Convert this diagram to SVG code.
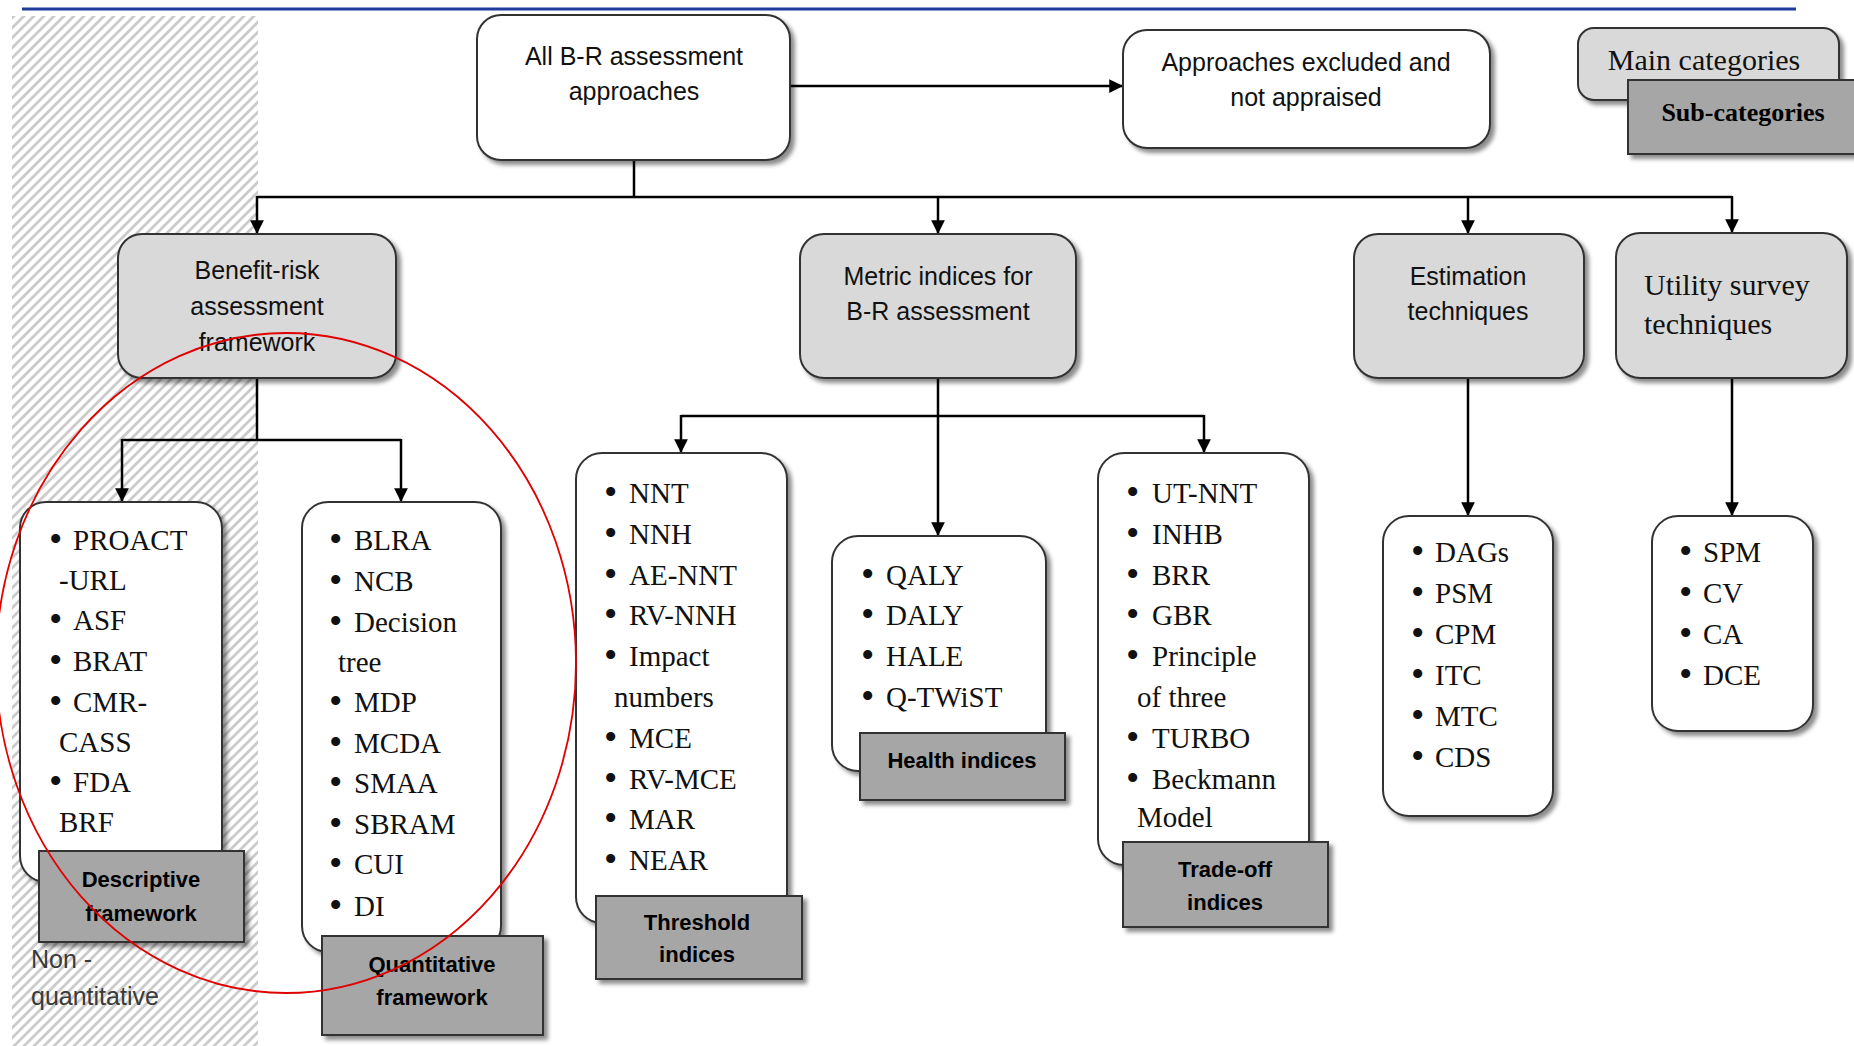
<svg xmlns="http://www.w3.org/2000/svg" width="1854" height="1046" viewBox="0 0 1854 1046">
<defs>
<style>
.main{fill:#d9d9d9;stroke:#333;stroke-width:2;filter:url(#sh)}
.white{fill:#fff;stroke:#333;stroke-width:2;filter:url(#sh)}
.sub{fill:#a6a6a6;stroke:#333;stroke-width:2;filter:url(#sh)}
.t{font-family:"Liberation Sans",Arial,sans-serif;font-size:25px;fill:#111;text-anchor:middle}
.ts{font-family:"Liberation Serif","Times New Roman",serif;font-size:30px;fill:#111}
.li{font-family:"Liberation Serif","Times New Roman",serif;font-size:29px;fill:#111}
.li .b{font-size:38px}
.lb{font-family:"Liberation Sans",Arial,sans-serif;font-weight:bold;font-size:22px;fill:#000;text-anchor:middle}
.conn{stroke:#000;stroke-width:2.5;fill:none}
.arr{stroke:#000;stroke-width:2.5;fill:none;marker-end:url(#ah)}
</style>
<filter id="sh" x="-10%" y="-10%" width="130%" height="130%">
<feDropShadow dx="4" dy="4" stdDeviation="2" flood-color="#000" flood-opacity="0.45"/>
</filter>
<pattern id="hatch" width="10" height="10" patternUnits="userSpaceOnUse">
<rect width="10" height="10" fill="#fff"/>
<path d="M-2,2 L2,-2 M0,10 L10,0 M8,12 L12,8" stroke="#cbcbcb" stroke-width="2.8"/>
</pattern>
<marker id="ah" viewBox="0 0 10 10" refX="10" refY="5" markerWidth="5.5" markerHeight="5.5" orient="auto" markerUnits="strokeWidth">
<path d="M0,0 L10,5 L0,10 z" fill="#000"/>
</marker>
</defs>
<rect width="1854" height="1046" fill="#fff"/>
<line x1="22" y1="9" x2="1796" y2="9" stroke="#1f3b9c" stroke-width="3"/>
<rect id="nonquant-area" x="12" y="16" width="246" height="1030" fill="url(#hatch)"/>

<g id="connectors">
<line class="arr" x1="790" y1="86" x2="1123" y2="86"/>
<line class="conn" x1="634" y1="160" x2="634" y2="197"/>
<line class="conn" x1="257" y1="197" x2="1732" y2="197"/>
<line class="arr" x1="257" y1="196" x2="257" y2="234"/>
<line class="arr" x1="938" y1="196" x2="938" y2="234"/>
<line class="arr" x1="1468" y1="196" x2="1468" y2="234"/>
<line class="arr" x1="1732" y1="196" x2="1732" y2="233"/>
<line class="conn" x1="257" y1="378" x2="257" y2="440"/>
<line class="conn" x1="122" y1="440" x2="401" y2="440"/>
<line class="arr" x1="122" y1="439" x2="122" y2="502"/>
<line class="arr" x1="401" y1="439" x2="401" y2="502"/>
<line class="arr" x1="938" y1="378" x2="938" y2="536"/>
<line class="conn" x1="681" y1="416" x2="1204" y2="416"/>
<line class="arr" x1="681" y1="415" x2="681" y2="453"/>
<line class="arr" x1="1204" y1="415" x2="1204" y2="453"/>
<line class="arr" x1="1468" y1="378" x2="1468" y2="516"/>
<line class="arr" x1="1732" y1="378" x2="1732" y2="516"/>
</g>

<g id="all-br">
<rect class="white" x="477" y="15" width="313" height="145" rx="24"/>
<text class="t" x="634" y="65">All B-R assessment</text>
<text class="t" x="634" y="100">approaches</text>
</g>
<g id="excluded">
<rect class="white" x="1123" y="30" width="367" height="118" rx="24"/>
<text class="t" x="1306" y="71">Approaches excluded and</text>
<text class="t" x="1306" y="106">not appraised</text>
</g>
<g id="legend">
<rect class="main" x="1578" y="28" width="261" height="72" rx="16"/>
<text class="ts" x="1704" y="70" text-anchor="middle" font-size="31">Main categories</text>
<rect class="sub" x="1628" y="80" width="232" height="74"/>
<text x="1743" y="121" text-anchor="middle" font-family="Liberation Serif,Times New Roman,serif" font-weight="bold" font-size="26" fill="#000">Sub-categories</text>
</g>

<g id="benefit-risk">
<rect class="main" x="118" y="234" width="278" height="144" rx="24"/>
<text class="t" x="257" y="279">Benefit-risk</text>
<text class="t" x="257" y="315">assessment</text>
<text class="t" x="257" y="351">framework</text>
</g>
<g id="metric">
<rect class="main" x="800" y="234" width="276" height="144" rx="24"/>
<text class="t" x="938" y="285">Metric indices for</text>
<text class="t" x="938" y="320">B-R assessment</text>
</g>
<g id="estimation">
<rect class="main" x="1354" y="234" width="230" height="144" rx="24"/>
<text class="t" x="1468" y="285">Estimation</text>
<text class="t" x="1468" y="320">techniques</text>
</g>
<g id="utility">
<rect class="main" x="1616" y="233" width="231" height="145" rx="24"/>
<text class="ts" x="1644" y="295">Utility survey</text>
<text class="ts" x="1644" y="334">techniques</text>
</g>

<g id="descriptive-list">
<rect class="white" x="20" y="502" width="202" height="380" rx="26"/>
<text class="li"><tspan class="b" x="49" y="552">•</tspan><tspan x="73" y="550">PROACT</tspan><tspan x="59" y="590">-URL</tspan><tspan class="b" x="49" y="632">•</tspan><tspan x="73" y="630">ASF</tspan><tspan class="b" x="49" y="673">•</tspan><tspan x="73" y="671">BRAT</tspan><tspan class="b" x="49" y="714">•</tspan><tspan x="73" y="712">CMR-</tspan><tspan x="59" y="752">CASS</tspan><tspan class="b" x="49" y="794">•</tspan><tspan x="73" y="792">FDA</tspan><tspan x="59" y="832">BRF</tspan></text>
</g>
<g id="descriptive-label">
<rect class="sub" x="39" y="851" width="205" height="91"/>
<text class="lb" x="141" y="887">Descriptive</text>
<text class="lb" x="141" y="921">framework</text>
</g>
<text id="nonquant-label" font-family="Liberation Sans,Arial,sans-serif" font-size="25" fill="#3a3a3a"><tspan x="31" y="968">Non -</tspan><tspan x="31" y="1005">quantitative</tspan></text>

<g id="quantitative-list">
<rect class="white" x="302" y="502" width="199" height="450" rx="26"/>
<text class="li"><tspan class="b" x="329" y="552">•</tspan><tspan x="354" y="550">BLRA</tspan><tspan class="b" x="329" y="593">•</tspan><tspan x="354" y="591">NCB</tspan><tspan class="b" x="329" y="634">•</tspan><tspan x="354" y="632">Decision</tspan><tspan x="338" y="672">tree</tspan><tspan class="b" x="329" y="714">•</tspan><tspan x="354" y="712">MDP</tspan><tspan class="b" x="329" y="755">•</tspan><tspan x="354" y="753">MCDA</tspan><tspan class="b" x="329" y="795">•</tspan><tspan x="354" y="793">SMAA</tspan><tspan class="b" x="329" y="836">•</tspan><tspan x="354" y="834">SBRAM</tspan><tspan class="b" x="329" y="876">•</tspan><tspan x="354" y="874">CUI</tspan><tspan class="b" x="329" y="918">•</tspan><tspan x="354" y="916">DI</tspan></text>
</g>
<g id="quantitative-label">
<rect class="sub" x="322" y="936" width="221" height="99"/>
<text class="lb" x="432" y="972">Quantitative</text>
<text class="lb" x="432" y="1005">framework</text>
</g>

<g id="threshold-list">
<rect class="white" x="576" y="453" width="211" height="470" rx="26"/>
<text class="li"><tspan class="b" x="604" y="505">•</tspan><tspan x="629" y="503">NNT</tspan><tspan class="b" x="604" y="546">•</tspan><tspan x="629" y="544">NNH</tspan><tspan class="b" x="604" y="587">•</tspan><tspan x="629" y="585">AE-NNT</tspan><tspan class="b" x="604" y="627">•</tspan><tspan x="629" y="625">RV-NNH</tspan><tspan class="b" x="604" y="668">•</tspan><tspan x="629" y="666">Impact</tspan><tspan x="614" y="707">numbers</tspan><tspan class="b" x="604" y="750">•</tspan><tspan x="629" y="748">MCE</tspan><tspan class="b" x="604" y="791">•</tspan><tspan x="629" y="789">RV-MCE</tspan><tspan class="b" x="604" y="831">•</tspan><tspan x="629" y="829">MAR</tspan><tspan class="b" x="604" y="872">•</tspan><tspan x="629" y="870">NEAR</tspan></text>
</g>
<g id="threshold-label">
<rect class="sub" x="596" y="896" width="206" height="83"/>
<text class="lb" x="697" y="930">Threshold</text>
<text class="lb" x="697" y="962">indices</text>
</g>

<g id="health-list">
<rect class="white" x="832" y="536" width="214" height="235" rx="26"/>
<text class="li"><tspan class="b" x="861" y="587">•</tspan><tspan x="886" y="585">QALY</tspan><tspan class="b" x="861" y="627">•</tspan><tspan x="886" y="625">DALY</tspan><tspan class="b" x="861" y="668">•</tspan><tspan x="886" y="666">HALE</tspan><tspan class="b" x="861" y="709">•</tspan><tspan x="886" y="707">Q-TWiST</tspan></text>
</g>
<g id="health-label">
<rect class="sub" x="860" y="733" width="205" height="67"/>
<text class="lb" x="962" y="768">Health indices</text>
</g>

<g id="tradeoff-list">
<rect class="white" x="1098" y="453" width="211" height="412" rx="26"/>
<text class="li"><tspan class="b" x="1126" y="505">•</tspan><tspan x="1152" y="503">UT-NNT</tspan><tspan class="b" x="1126" y="546">•</tspan><tspan x="1152" y="544">INHB</tspan><tspan class="b" x="1126" y="587">•</tspan><tspan x="1152" y="585">BRR</tspan><tspan class="b" x="1126" y="627">•</tspan><tspan x="1152" y="625">GBR</tspan><tspan class="b" x="1126" y="668">•</tspan><tspan x="1152" y="666">Principle</tspan><tspan x="1137" y="707">of three</tspan><tspan class="b" x="1126" y="750">•</tspan><tspan x="1152" y="748">TURBO</tspan><tspan class="b" x="1126" y="791">•</tspan><tspan x="1152" y="789">Beckmann</tspan><tspan x="1137" y="827">Model</tspan></text>
</g>
<g id="tradeoff-label">
<rect class="sub" x="1123" y="842" width="205" height="85"/>
<text class="lb" x="1225" y="877">Trade-off</text>
<text class="lb" x="1225" y="910">indices</text>
</g>

<g id="estimation-list">
<rect class="white" x="1383" y="516" width="170" height="300" rx="26"/>
<text class="li"><tspan class="b" x="1411" y="564">•</tspan><tspan x="1435" y="562">DAGs</tspan><tspan class="b" x="1411" y="605">•</tspan><tspan x="1435" y="603">PSM</tspan><tspan class="b" x="1411" y="646">•</tspan><tspan x="1435" y="644">CPM</tspan><tspan class="b" x="1411" y="687">•</tspan><tspan x="1435" y="685">ITC</tspan><tspan class="b" x="1411" y="728">•</tspan><tspan x="1435" y="726">MTC</tspan><tspan class="b" x="1411" y="769">•</tspan><tspan x="1435" y="767">CDS</tspan></text>
</g>
<g id="utility-list">
<rect class="white" x="1652" y="516" width="161" height="215" rx="26"/>
<text class="li"><tspan class="b" x="1679" y="564">•</tspan><tspan x="1703" y="562">SPM</tspan><tspan class="b" x="1679" y="605">•</tspan><tspan x="1703" y="603">CV</tspan><tspan class="b" x="1679" y="646">•</tspan><tspan x="1703" y="644">CA</tspan><tspan class="b" x="1679" y="687">•</tspan><tspan x="1703" y="685">DCE</tspan></text>
</g>

<ellipse id="highlight" cx="286" cy="663" rx="290" ry="330" fill="none" stroke="#e00000" stroke-width="1.8"/>
</svg>
